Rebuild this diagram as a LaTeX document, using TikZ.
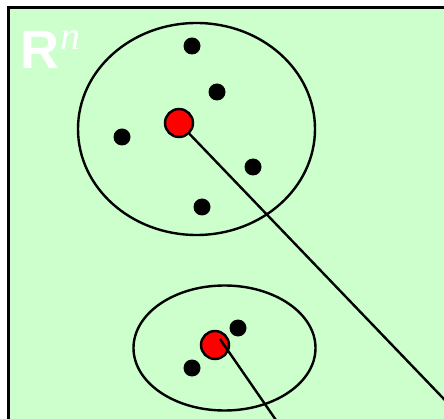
\documentclass[tikz,border=0pt]{standalone}
\usepackage{fontspec}
\newfontfamily\rsans{Liberation Sans}
\newfontfamily\rserif{Liberation Serif}
\definecolor{bggreen}{HTML}{CCFFCC}
\tikzset{
  dot/.style={circle, fill=black, inner sep=0pt, minimum size=17pt},
  center/.style={circle, fill=red, draw=black, line width=2.4pt, inner sep=0pt, minimum size=28pt},
  region/.style={draw=black, line width=2.4pt},
  link/.style={draw=black, line width=2.4pt},
}
\begin{document}
\begin{tikzpicture}[x=1pt,y=-1pt]
\useasboundingbox (0,0) rectangle (444,419);
\clip (0,0) rectangle (444,419);
\draw[fill=bggreen, line width=3pt] (8,8) rectangle (470,450);
\node[text=white, anchor=base west, inner sep=0pt, font=\rsans\bfseries\fontsize{54}{54}\selectfont] (R) at (20,69) {R};
\node[text=white, anchor=base west, inner sep=0pt, font=\rserif\itshape\fontsize{40}{40}\selectfont] (n) at (R.base east) [yshift=19pt, xshift=0.5pt] {n};
% big cluster
\draw[region] (196.5,129) ellipse [x radius=118.5, y radius=106];
\node[dot] (a1) at (192,46) {};
\node[dot] (a2) at (217,92) {};
\node[dot] (a3) at (122,137) {};
\node[dot] (a4) at (253,167) {};
\node[dot] (a5) at (202,207) {};
\coordinate (bigend) at (489,446);
\node[center] (A) at (179,123) {};
\draw[link] (A) -- (bigend);
% small cluster
\draw[region] (224.5,348) ellipse [x radius=91, y radius=62.5];
\node[dot] (b1) at (238,328) {};
\node[dot] (b2) at (192,368) {};
\node[center] (B) at (215,345) {};
\coordinate (Bstart) at (220,339);
\coordinate (smallend) at (278,423);
\draw[link] (Bstart) -- (smallend);
\end{tikzpicture}
\end{document}
